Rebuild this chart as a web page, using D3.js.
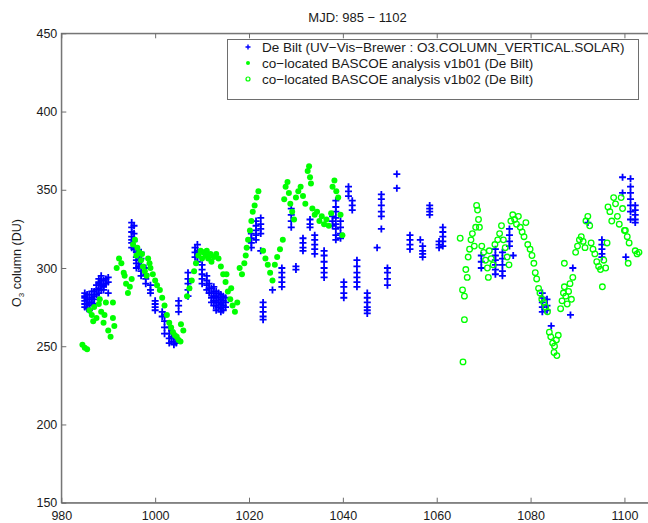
<html>
<head>
<meta charset="utf-8">
<script src="https://cdnjs.cloudflare.com/ajax/libs/d3/7.8.5/d3.min.js"></script>
<style>
  body { margin: 0; background: #fff; }
  text { font-family: "Liberation Sans", Arial, Helvetica, sans-serif; fill: #1a1a1a; }
</style>
</head>
<body>
<div id="chartContainer"></div>
<script>
// ---- data ----
// Brewer measurements: [MJD, [values at that day]]
var brewerObs = [
  [985, [284, 281, 279, 277, 275, 282]],
  [985.5, [283, 280, 277, 274]],
  [986, [283, 280, 278, 276, 273]],
  [986.5, [285, 281, 278]],
  [987, [285, 282, 280, 277]],
  [987.5, [289, 286, 283]],
  [988, [293, 290, 287, 284, 291]],
  [988.5, [295, 292, 289, 286]],
  [989, [292, 289, 286, 288]],
  [989.5, [293, 290]],
  [990, [294, 291, 284]],
  [995, [329, 326, 323, 320, 318, 316, 313]],
  [995.5, [327, 322, 317, 312]],
  [996, [312, 310, 307, 305, 303, 300]],
  [996.5, [309, 305, 301]],
  [997, [310, 306, 302, 298, 295]],
  [998, [300, 296, 293, 290]],
  [999, [289, 286, 284]],
  [1000, [279, 277, 275, 273]],
  [1001.5, [272, 269]],
  [1002, [270, 266, 262, 258]],
  [1003, [262, 258, 255, 252]],
  [1003.5, [260, 256, 253]],
  [1004, [256, 253, 251]],
  [1004.5, [255, 252]],
  [1005, [279, 276, 272]],
  [1007, [297, 293, 290, 286, 282]],
  [1008.5, [313, 310, 307]],
  [1009, [315, 311, 307, 304]],
  [1010, [302, 299, 296, 293, 290]],
  [1011, [295, 292, 289, 286]],
  [1011.5, [290, 287, 284]],
  [1012, [287, 284, 281, 278]],
  [1012.5, [288, 285, 282, 279, 276]],
  [1013, [285, 282, 279, 276, 273]],
  [1013.5, [284, 281, 278, 275]],
  [1014, [283, 280, 277, 274, 272]],
  [1014.5, [282, 279, 276, 273]],
  [1015, [281, 278, 275]],
  [1020.5, [322, 319, 316, 313]],
  [1021.5, [330, 327, 324, 321, 318]],
  [1022.5, [332, 328, 325, 322, 311]],
  [1023, [278, 275, 272, 269, 267]],
  [1025, [286]],
  [1027, [300, 297, 294, 291, 288]],
  [1029, [338, 334, 330, 326]],
  [1030, [301, 299]],
  [1031.5, [319, 316, 313, 311]],
  [1033, [331, 328, 326]],
  [1034, [321, 318, 315, 312, 309]],
  [1036, [311, 308, 304, 300, 297, 294]],
  [1037.8, [333, 330, 327]],
  [1038.5, [343, 339, 336, 332, 328, 325, 321, 318]],
  [1039.5, [330, 326, 322, 319]],
  [1040.2, [291, 288, 284, 281]],
  [1041.2, [352, 349, 346]],
  [1042, [343, 340, 337]],
  [1043, [305, 301, 297, 294, 291, 288]],
  [1045.2, [284, 281, 278, 275, 273, 271]],
  [1047.3, [313]],
  [1048.2, [347, 344, 340, 336, 333, 325]],
  [1049.5, [300, 297, 293, 289]],
  [1051.5, [360, 351]],
  [1054.3, [321, 318, 315, 312]],
  [1056.5, [318]],
  [1057, [314, 311, 309, 307]],
  [1058.5, [340, 338, 336, 334]],
  [1060.5, [317, 315, 313]],
  [1061.3, [326, 323, 320, 317, 314]],
  [1069.5, [308, 304, 300]],
  [1072.5, [312, 308, 305, 302, 299, 296]],
  [1074, [310, 306, 302, 298, 295]],
  [1075.5, [325, 321, 317, 314]],
  [1076.3, [308]],
  [1082.5, [284, 281, 278, 275, 272]],
  [1083.5, [280, 276, 273]],
  [1084.4, [263]],
  [1088.5, [270]],
  [1089, [300]],
  [1092.2, [329]],
  [1095.2, [318, 315, 312, 309, 307]],
  [1099.6, [358, 348]],
  [1100.3, [307]],
  [1101.3, [357, 352, 348, 344, 340, 336, 331]],
  [1102.3, [340, 337, 334, 331, 329]]
];

// BASCOE analysis v1b01: [MJD, value]
var bascoeV1b01 = [
  [984.5, 251], [985, 249], [985.5, 248],
  [986, 273], [986.5, 270], [987, 275], [987.5, 268], [988, 277], [988.5, 272], [989, 265], [989.5, 278],
  [986.8, 266], [988.2, 280], [989.2, 270],
  [990, 260], [990.5, 256], [991, 268], [991.3, 263], [991, 278],
  [991.8, 300], [992.3, 306], [992.8, 303], [993.3, 297], [993.5, 295],
  [993.8, 290], [994.2, 284], [994.6, 288], [995, 293],
  [995.3, 315], [995.7, 318], [996.2, 313], [996.6, 310], [997, 305], [997.4, 301], [997.8, 298],
  [996, 308], [997.2, 309], [998.8, 303],
  [998.2, 295], [998.5, 306], [999, 300], [999.5, 296], [1000, 292], [1000.4, 289],
  [1001, 286], [1001.5, 281], [1002, 276], [1002.5, 270], [1003, 265], [1003.4, 262], [1003.8, 259],
  [1004.2, 257], [1004.6, 256], [1005, 254], [1005.4, 253], [1005.5, 264], [1006, 260],
  [1006.8, 282], [1007.3, 287], [1007.8, 292], [1008.3, 298], [1008.7, 303], [1009.2, 308],
  [1009.7, 311], [1010.2, 310], [1010.8, 308], [1011.3, 306],
  [1010, 306], [1011, 311], [1011.8, 309],
  [1012, 304], [1012.5, 307], [1013, 309], [1013.5, 306], [1014, 301], [1014.5, 296],
  [1015, 291], [1015.5, 285], [1016, 280], [1016.5, 276], [1017, 272], [1017.5, 278],
  [1015.2, 296], [1016.2, 287],
  [1018, 300], [1018.5, 296], [1019, 303], [1019.3, 308],
  [1019.5, 313], [1019.8, 318], [1020.2, 324], [1020.5, 330], [1020.8, 336], [1021.2, 340],
  [1021.6, 345], [1022, 349],
  [1023, 311], [1023.5, 306], [1024, 302], [1024.5, 297], [1025, 292], [1025.5, 302], [1026, 307],
  [1026.6, 312], [1027.2, 318],
  [1027.5, 344], [1027.8, 352], [1028.2, 355], [1028.5, 348], [1028.8, 341], [1029.2, 336], [1029.6, 331],
  [1030, 345], [1030.5, 349], [1031, 352], [1031.5, 346], [1032, 341],
  [1032.5, 362], [1032.8, 365], [1033, 358], [1033.2, 354],
  [1033.5, 338], [1034, 334], [1034.5, 336], [1035, 330], [1035.5, 333], [1036, 328], [1036.5, 331],
  [1037, 327], [1037.5, 335],
  [1037.8, 352], [1038.2, 356], [1038.6, 349], [1039, 345],
  [1039.5, 334], [1039.9, 321]
];

// BASCOE analysis v1b02: [MJD, value]
var bascoeV1b02 = [
  [1065, 319], [1065.5, 286], [1065.9, 282], [1065.9, 267], [1065.6, 240],
  [1066.2, 299], [1066.5, 294],
  [1066.7, 307], [1067, 312], [1067.3, 318], [1067.6, 322], [1068, 314], [1068.3, 326],
  [1068.5, 340], [1068.7, 337], [1068.9, 331], [1069.1, 326],
  [1069.6, 314], [1070, 310], [1070.4, 305], [1070.8, 300], [1071.2, 311], [1071.6, 306],
  [1072, 302], [1071, 294], [1072.4, 315],
  [1073, 318], [1073.4, 322], [1073.8, 327], [1074.2, 318], [1074.6, 313], [1075, 307], [1075.4, 302],
  [1075.8, 330], [1076.2, 334], [1076.6, 331], [1077, 328], [1077.4, 333], [1077.8, 326],
  [1078.2, 323], [1078.6, 320], [1079, 329],
  [1079.4, 315], [1079.9, 312], [1080.3, 308],
  [1080.7, 303], [1081, 297], [1081.3, 293],
  [1081.7, 287], [1082, 284], [1082.4, 280], [1082.8, 278], [1083.2, 275], [1083.6, 272],
  [1084, 259], [1084.3, 256], [1084.7, 252], [1085.1, 250], [1085.5, 254], [1085.9, 257],
  [1085, 246], [1085.6, 244],
  [1086.4, 274], [1086.7, 279], [1087, 284], [1087.2, 288], [1087.5, 282], [1087.8, 277],
  [1088.1, 285], [1088.4, 290], [1088.7, 280], [1089, 294], [1087.2, 303],
  [1089.6, 310], [1090, 314], [1090.4, 318], [1090.8, 320], [1091.2, 317], [1091.6, 313],
  [1091.8, 330], [1092.2, 333], [1092.6, 327],
  [1092.9, 316], [1093.3, 312], [1093.7, 309], [1094.1, 304], [1094.5, 301], [1094.9, 299],
  [1095.3, 288], [1095.6, 305], [1096, 300], [1096.3, 316],
  [1096.5, 339], [1096.9, 336], [1097.3, 330], [1097.7, 345], [1098.1, 341], [1098.5, 333],
  [1098.9, 328], [1099.3, 345], [1099.6, 338], [1100, 324],
  [1100.2, 324], [1100.6, 320], [1101, 316], [1100.8, 303],
  [1102.3, 311], [1102.7, 309], [1103.1, 310]
];

var xTicks = [980, 1000, 1020, 1040, 1060, 1080, 1100];
var yTicks = [150, 200, 250, 300, 350, 400, 450];
var legendLabels = [
  "De Bilt (UV\u2212Vis\u2212Brewer : O3.COLUMN_VERTICAL.SOLAR)",
  "co\u2212located BASCOE analysis v1b01 (De Bilt)",
  "co\u2212located BASCOE analysis v1b02 (De Bilt)"
];

// ---- layout ----
var W = 648, H = 523;
var plotL = 61.3, plotT = 33.3, plotR = 654, plotB = 502.7;

var svg = d3.select("#chartContainer").append("svg")
    .attr("width", W).attr("height", H);

var x = d3.scaleLinear().domain([980, 1106.3]).range([plotL, plotR]);
var y = d3.scaleLinear().domain([150, 450]).range([plotB, plotT]);

// frame
svg.append("rect")
    .attr("x", plotL).attr("y", plotT)
    .attr("width", plotR - plotL).attr("height", plotB - plotT)
    .style("fill", "none").style("stroke", "#6e6e6e").style("stroke-width", 1);

// bottom axis, ticks pointing in
var xAxis = svg.append("g")
    .attr("transform", "translate(0," + plotB + ")")
    .call(d3.axisBottom(x).tickValues(xTicks).tickFormat(d3.format("d"))
        .tickSizeInner(-5).tickSizeOuter(0).tickPadding(8));
// top ticks
var xTop = svg.append("g")
    .attr("transform", "translate(0," + plotT + ")")
    .call(d3.axisTop(x).tickValues(xTicks).tickSizeInner(-5).tickSizeOuter(0).tickFormat(""));
// left axis
var yAxis = svg.append("g")
    .attr("transform", "translate(" + plotL + ",0)")
    .call(d3.axisLeft(y).tickValues(yTicks).tickFormat(d3.format("d"))
        .tickSizeInner(-5).tickSizeOuter(0).tickPadding(4));

[xAxis, xTop, yAxis].forEach(function (g) {
  g.selectAll("path.domain").style("stroke", "#6e6e6e");
  g.selectAll("line").style("stroke", "#6e6e6e");
  g.selectAll("text").style("font-size", "12.5px").style("fill", "#1a1a1a")
      .style("font-family", "\"Liberation Sans\", Arial, sans-serif");
});

// y axis title with subscript
var yt = svg.append("text")
    .attr("transform", "translate(21,263) rotate(-90)")
    .attr("text-anchor", "middle")
    .style("font-size", "12.5px");
yt.append("tspan").text("O");
yt.append("tspan").attr("dy", 3).style("font-size", "8px").text("3");
yt.append("tspan").attr("dy", -3).text(" column (DU)");

// title
svg.append("text")
    .attr("x", 357.5).attr("y", 22)
    .attr("text-anchor", "middle")
    .style("font-size", "13px")
    .text("MJD: 985 \u2212 1102");

// clip to plot area
svg.append("clipPath").attr("id", "plotClip")
  .append("rect").attr("x", plotL).attr("y", plotT)
  .attr("width", plotR - plotL).attr("height", plotB - plotT);
var plot = svg.append("g").attr("clip-path", "url(#plotClip)");

var brewerPts = [];
brewerObs.forEach(function (d) {
  d[1].forEach(function (v) { brewerPts.push([d[0], v]); });
});

var plus = "M-3.5,0H3.5M0,-3.5V3.5";

plot.selectAll("path.brewer")
    .data(brewerPts)
    .enter().append("path")
    .attr("class", "brewer")
    .attr("d", plus)
    .attr("transform", function (d) { return "translate(" + x(d[0]) + "," + y(d[1]) + ")"; })
    .style("stroke", "#0000ff").style("stroke-width", 1.8).style("fill", "none");

plot.selectAll("circle.v1")
    .data(bascoeV1b01)
    .enter().append("circle")
    .attr("class", "v1")
    .attr("cx", function (d) { return x(d[0]); })
    .attr("cy", function (d) { return y(d[1]); })
    .attr("r", 3)
    .style("fill", "#00ff00");

plot.selectAll("circle.v2")
    .data(bascoeV1b02)
    .enter().append("circle")
    .attr("class", "v2")
    .attr("cx", function (d) { return x(d[0]); })
    .attr("cy", function (d) { return y(d[1]); })
    .attr("r", 2.8)
    .style("fill", "none")
    .style("stroke", "#00ff00").style("stroke-width", 1.3);

// legend
var lg = svg.append("g");
lg.append("rect")
    .attr("x", 227.5).attr("y", 39.5)
    .attr("width", 411).attr("height", 60)
    .style("fill", "#fff").style("stroke", "#6e6e6e").style("stroke-width", 1);

var rowY = [47, 63, 79];
lg.append("path").attr("d", "M-2.5,0H2.5M0,-2.5V2.5")
    .attr("transform", "translate(248," + rowY[0] + ")")
    .style("stroke", "#0000ff").style("stroke-width", 1.4);
lg.append("circle").attr("cx", 248).attr("cy", rowY[1]).attr("r", 2).style("fill", "#00ff00");
lg.append("circle").attr("cx", 248).attr("cy", rowY[2]).attr("r", 2)
    .style("fill", "none").style("stroke", "#00ff00").style("stroke-width", 1.2);

lg.selectAll("text.leg")
    .data(legendLabels)
    .enter().append("text")
    .attr("class", "leg")
    .attr("x", 262)
    .attr("y", function (d, i) { return rowY[i] + 4.5; })
    .style("font-size", "13.5px")
    .text(function (d) { return d; });
</script>
</body>
</html>
